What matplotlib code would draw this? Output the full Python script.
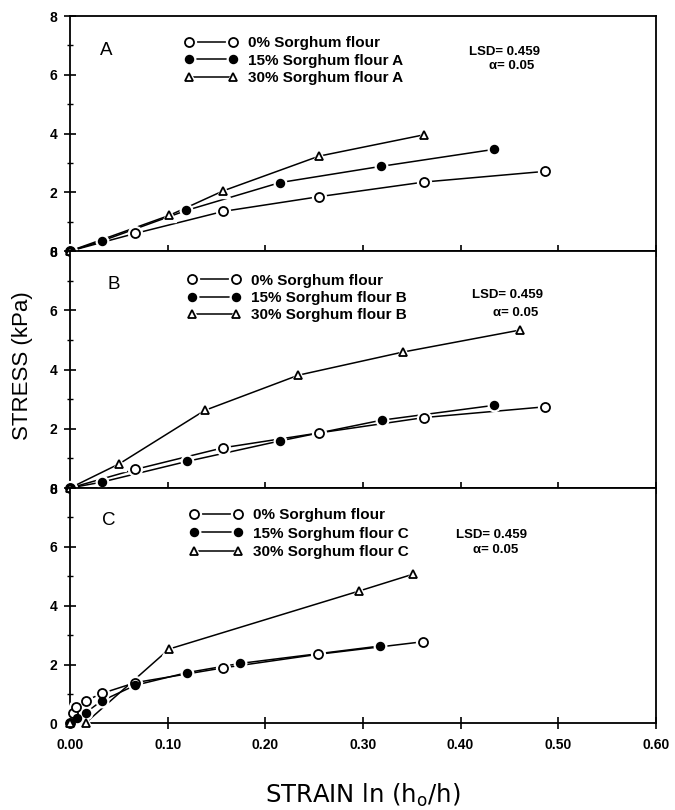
import matplotlib
matplotlib.use('Agg')
import matplotlib.pyplot as plt
from matplotlib.legend_handler import HandlerTuple
from matplotlib.ticker import FixedLocator, FormatStrFormatter

plt.rcParams['font.family'] = ['Liberation Sans', 'DejaVu Sans']

# Panel A
a_x0 = [0.0, 0.067, 0.157, 0.255, 0.363, 0.486]
a_y0 = [0.0, 0.60, 1.35, 1.85, 2.35, 2.71]
a_x15 = [0.0, 0.0325, 0.119, 0.215, 0.318, 0.434]
a_y15 = [0.0, 0.34, 1.38, 2.33, 2.88, 3.46]
a_x30 = [0.0, 0.1015, 0.157, 0.255, 0.363]
a_y30 = [0.0, 1.21, 2.05, 3.23, 3.96]

# Panel B
b_x0 = [0.0, 0.067, 0.157, 0.255, 0.363, 0.486]
b_y0 = [0.0, 0.63, 1.36, 1.86, 2.38, 2.74]
b_x15 = [0.0, 0.0325, 0.120, 0.215, 0.319, 0.434]
b_y15 = [0.0, 0.20, 0.90, 1.59, 2.29, 2.79]
b_x30 = [0.0, 0.0506, 0.138, 0.234, 0.341, 0.4605]
b_y30 = [0.0, 0.82, 2.62, 3.81, 4.59, 5.33]

# Panel C
c_x0 = [0.0, 0.0028, 0.006, 0.016, 0.0325, 0.067, 0.157, 0.254, 0.362]
c_y0 = [0.0, 0.37, 0.56, 0.77, 1.02, 1.39, 1.89, 2.35, 2.78]
c_x15 = [0.0, 0.0075, 0.016, 0.0325, 0.067, 0.120, 0.174, 0.317]
c_y15 = [0.0, 0.19, 0.37, 0.77, 1.30, 1.73, 2.04, 2.63]
c_x30 = [0.0, 0.016, 0.1015, 0.296, 0.351]
c_y30 = [0.0, 0.02, 2.53, 4.50, 5.07]

letters = ['A', 'B', 'C']
xticks = [0.0, 0.1, 0.2, 0.3, 0.4, 0.5, 0.6]
yticks = [0, 2, 4, 6, 8]
yminor = [1, 3, 5, 7]

panels = [
    [(a_x0, a_y0), (a_x15, a_y15), (a_x30, a_y30)],
    [(b_x0, b_y0), (b_x15, b_y15), (b_x30, b_y30)],
    [(c_x0, c_y0), (c_x15, c_y15), (c_x30, c_y30)],
]

# marker, size, face colour
styles = [('o', 6.5, 'white'), ('o', 5.5, 'black'), ('^', 6.0, 'white')]

fig = plt.figure(figsize=(6.75, 8.1), dpi=100)
left, width = 0.1037, 0.868
bottoms = [0.6901, 0.3975, 0.1068]
heights = [0.2901, 0.2926, 0.2907]

# legend / text positions (axes fraction)
leg_pos = [(0.195, 0.913), (0.200, 0.905), (0.204, 0.915)]
leg_space = [0.22, 0.22, 0.30]
let_pos = [(0.061, 0.855), (0.074, 0.86), (0.066, 0.864)]
lsd_pos = [(0.742, 0.847), (0.747, 0.814), (0.720, 0.80)]
alp_pos = [(0.753, 0.787), (0.760, 0.737), (0.726, 0.736)]

for i, series in enumerate(panels):
    ax = fig.add_axes([left, bottoms[i], width, heights[i]])
    handles = []
    for (xs, ys), (m, ms, fc) in zip(series, styles):
        ln, = ax.plot(xs, ys, color='black', lw=1.1, zorder=2)
        halo, = ax.plot(xs, ys, ls='none', marker=m, ms=ms + 3.5, mfc='white',
                        mec='white', zorder=3, clip_on=False)
        mk, = ax.plot(xs, ys, ls='none', marker=m, ms=ms, mfc=fc, mec='black',
                      mew=1.3, zorder=4, clip_on=False)
        handles.append((ln, halo, mk))
    suffix = ' ' + letters[i]
    labels = ['0% Sorghum flour', '15% Sorghum flour' + suffix,
              '30% Sorghum flour' + suffix]
    ax.legend(handles, labels, handler_map={tuple: HandlerTuple(ndivide=1, pad=0)},
              loc='upper left', bbox_to_anchor=leg_pos[i], frameon=False,
              numpoints=2, handlelength=3.5, handletextpad=0.68,
              labelspacing=leg_space[i], borderpad=0, borderaxespad=0,
              prop={'weight': 'bold', 'size': 11})
    ax.text(*let_pos[i], letters[i], transform=ax.transAxes, fontsize=13.5,
            ha='center', va='center')
    ax.text(*lsd_pos[i], 'LSD= 0.459', transform=ax.transAxes, fontsize=9.5,
            fontweight='bold', ha='center', va='center')
    ax.text(*alp_pos[i], 'α= 0.05', transform=ax.transAxes, fontsize=9.5,
            fontweight='bold', ha='center', va='center')

    ax.set_xlim(0, 0.6)
    ax.set_ylim(0, 8)
    ax.xaxis.set_major_locator(FixedLocator(xticks))
    ax.yaxis.set_major_locator(FixedLocator(yticks))
    ax.yaxis.set_minor_locator(FixedLocator(yminor))
    ax.tick_params(axis='x', direction='inout', length=9, width=1.2,
                   labelsize=10, pad=6)
    ax.tick_params(axis='y', which='major', direction='inout', length=8,
                   width=1.2, labelsize=10, pad=5)
    ax.tick_params(axis='y', which='minor', direction='inout', length=5,
                   width=1.0)
    for lab in ax.get_yticklabels():
        lab.set_fontweight('bold')
    if i < 2:
        ax.set_xticklabels([])
    else:
        ax.xaxis.set_major_formatter(FormatStrFormatter('%.2f'))
        for lab in ax.get_xticklabels():
            lab.set_fontweight('bold')
    for sp in ax.spines.values():
        sp.set_linewidth(1.3)

fig.text(0.034, 0.549, 'STRESS (kPa)', rotation=90, fontsize=16,
         ha='center', va='center')
fig.text(0.538, 0.018, 'STRAIN ln (h$_\\mathregular{o}$/h)', fontsize=17.5,
         family='DejaVu Sans', ha='center', va='center')

fig.savefig('out.png', dpi=100)
